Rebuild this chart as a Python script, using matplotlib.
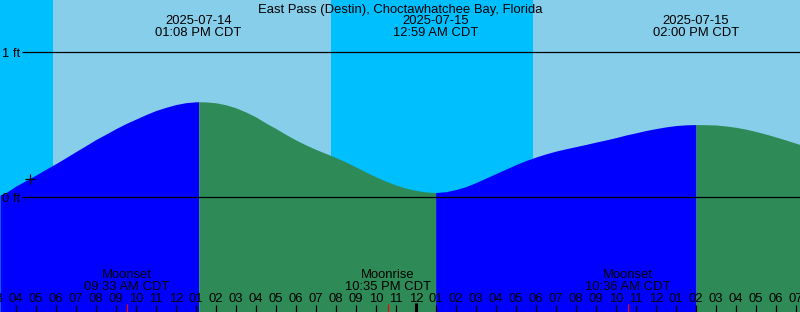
import numpy as np
import matplotlib
matplotlib.use("Agg")
from matplotlib import pyplot as plt

# hours since 2025-07-14 00:00 CDT, tide height in ft
hours = [3.2, 3.5, 4, 4.5, 5, 5.5, 6, 6.5, 7, 7.5, 8, 8.5, 9, 9.5, 10, 10.5, 11, 11.5,
         12, 12.5, 13, 13.133,
         13.5, 14, 14.5, 15, 15.5, 16, 16.5, 17, 17.5, 18, 18.5, 19, 19.5, 20, 20.5,
         21, 21.5, 22, 22.5, 23, 23.5, 24, 24.5, 24.983,
         25.5, 26, 26.5, 27, 27.5, 28, 28.5, 29, 29.5, 30, 30.5, 31, 31.5, 32, 32.5,
         33, 33.5, 34, 34.5, 35, 35.5, 36, 36.5, 37, 37.5, 38,
         38.5, 39, 39.5, 40, 40.5, 41, 41.5, 42, 42.5, 43, 43.2]
height_ft = [0.014, 0.031, 0.076, 0.114, 0.152, 0.192, 0.231, 0.272, 0.314, 0.355, 0.397,
             0.434, 0.472, 0.507, 0.538, 0.569, 0.597, 0.619, 0.638, 0.651, 0.657, 0.657,
             0.656, 0.650, 0.636, 0.615, 0.586, 0.552, 0.510, 0.472, 0.431, 0.393, 0.359,
             0.328, 0.300, 0.272, 0.241, 0.207, 0.172, 0.139, 0.109, 0.083, 0.061, 0.046,
             0.035, 0.031,
             0.037, 0.052, 0.072, 0.100, 0.131, 0.162, 0.193, 0.224, 0.252, 0.276, 0.298,
             0.317, 0.333, 0.348, 0.363, 0.379, 0.394, 0.410, 0.428, 0.443, 0.459, 0.472,
             0.484, 0.493, 0.498, 0.500,
             0.499, 0.497, 0.490, 0.481, 0.468, 0.452, 0.434, 0.414, 0.393, 0.371, 0.362]

tide_hours = [13.133, 24.983, 38.0]
tide_dates = ["2025-07-14", "2025-07-15", "2025-07-15"]
tide_clock = ["01:08 PM CDT", "12:59 AM CDT", "02:00 PM CDT"]

moon_hours = [9.55, 22.583, 34.6]
moon_names = ["Moonset", "Moonrise", "Moonset"]
moon_clock = ["09:33 AM CDT", "10:35 PM CDT", "10:36 AM CDT"]

sunrise_hours = [5.85, 29.85]
sunset_hours = [19.75]

now_hour = 4.7
now_ft = 0.122

title = "East Pass (Destin), Choctawhatchee Bay, Florida"

x0, x1 = 3.2, 43.2
y0, y1 = -0.793, 1.359
W, H = 800, 312
fs = 9.4

plt.rcParams['font.family'] = ['Liberation Sans', 'DejaVu Sans']

fig = plt.figure(figsize=(W / 100, H / 100), dpi=100)
ax = fig.add_axes([0, 0, 1, 1])
ax.set_xlim(x0, x1)
ax.set_ylim(y0, y1)
ax.axis('off')


def ypos(pix):
    return 1 - pix / H


# day / night background
ax.axvspan(x0, x1, color='#87CEEB', lw=0)
ax.axvspan(x0, sunrise_hours[0], color='#00BFFF', lw=0)
ax.axvspan(sunset_hours[0], sunrise_hours[1], color='#00BFFF', lw=0)

# water, blue while rising, green while falling
t = np.array(hours)
h = np.array(height_ft)
bounds = [x0] + tide_hours + [x1]
rising = h[1] > h[0]
for a, b in zip(bounds[:-1], bounds[1:]):
    m = (t >= a - 1e-6) & (t <= b + 1e-6)
    ax.fill_between(t[m], y0, h[m], color='#0000FF' if rising else '#2E8B57', lw=0)
    rising = not rising

# datum lines
for lev, lab in [(0, "0 ft"), (1, "1 ft")]:
    ax.hlines(lev, x0 + 22 / 20, x1, color='black', lw=0.9)
    ax.text(2.5 / W, (lev - y0) / (y1 - y0) - 4.5 / H, lab, transform=ax.transAxes,
            ha='left', va='baseline', fontsize=fs)

ax.plot(now_hour, now_ft, marker='+', color='black', ms=7, mew=0.9)

ax.text(0.5, ypos(12.5), title, transform=ax.transAxes, ha='center', va='baseline', fontsize=fs)

xt = ax.get_xaxis_transform()
for th, d, c in zip(tide_hours, tide_dates, tide_clock):
    ax.text(th, ypos(24.3), d, transform=xt, ha='center', va='baseline', fontsize=fs)
    ax.text(th, ypos(36), c, transform=xt, ha='center', va='baseline', fontsize=fs)

for mh, n, c in zip(moon_hours, moon_names, moon_clock):
    ax.text(mh, ypos(277.7), n, transform=xt, ha='center', va='baseline', fontsize=fs)
    ax.text(mh, ypos(289.5), c, transform=xt, ha='center', va='baseline', fontsize=fs)

# hour ticks
for hr in range(3, 44):
    lab = "%02d" % ((hr - 1) % 12 + 1)
    ax.text(hr, ypos(301.7), lab, transform=xt, ha='center', va='baseline', fontsize=fs, clip_on=True)
    if hr % 24 == 0:
        ax.vlines(hr, 0, ypos(303), transform=xt, color='black', lw=2.2)
    else:
        ax.vlines(hr, 0, ypos(305), transform=xt, color='black', lw=0.9)

for mh in moon_hours:
    ax.vlines(mh, 0, ypos(304), transform=xt, color='red', lw=0.9)

fig.savefig("out.png", dpi=100)
